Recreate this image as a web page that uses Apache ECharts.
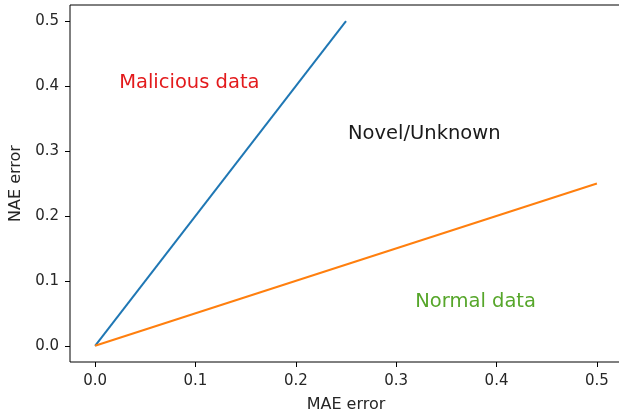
<!DOCTYPE html>
<html>
<head>
<meta charset="utf-8">
<script src="https://cdn.jsdelivr.net/npm/echarts@6/dist/echarts.min.js"></script>
<style>
  html, body { margin: 0; padding: 0; background: #fff; }
  #main { width: 619px; height: 415px; }
</style>
</head>
<body>
<div id="main"></div>
<script>
// threshold lines (MAE on x, NAE on y)
var blueX = [0, 0.25];
var blueY = [0, 0.5];
var orangeX = [0, 0.5];
var orangeY = [0, 0.25];

// tick values shown on both axes
var tickValues = [0, 0.1, 0.2, 0.3, 0.4, 0.5];

// region labels
var noteText = ['Malicious data', 'Novel/Unknown', 'Normal data'];
var noteX = [0.024, 0.252, 0.319];
var noteY = [0.405, 0.326, 0.068];
var noteColor = ['#e31a1c', '#1a1a1a', '#56a62a'];

function pairs(xs, ys) {
    var out = [];
    for (var i = 0; i < xs.length; i++) {
        out.push([xs[i], ys[i]]);
    }
    return out;
}

var notes = [];
for (var i = 0; i < noteText.length; i++) {
    notes.push({
        value: [noteX[i], noteY[i]],
        label: {
            formatter: noteText[i],
            color: noteColor[i]
        }
    });
}

var fmt = function (v) { return v.toFixed(1); };
var font = 'DejaVu Sans';

function makeAxis(name, gap, labelMargin) {
    return {
        type: 'value',
        min: -0.025,
        max: 0.525,
        name: name,
        nameLocation: 'middle',
        nameGap: gap,
        nameTextStyle: {fontFamily: font, fontSize: 16, color: '#262626'},
        splitLine: {show: false},
        axisLine: {show: false, onZero: false},
        axisTick: {
            show: true,
            length: 5,
            customValues: tickValues,
            lineStyle: {color: '#000', width: 1}
        },
        axisLabel: {
            customValues: tickValues,
            formatter: fmt,
            margin: labelMargin,
            fontFamily: font,
            fontSize: 15,
            color: '#262626'
        }
    };
}

var chart = echarts.init(document.getElementById('main'));
chart.setOption({
    animation: false,
    textStyle: {fontFamily: font},
    grid: {
        left: 70, width: 552, top: 5, height: 357,
        outerBoundsMode: 'none',
        containLabel: false,
        show: true,
        borderColor: '#000',
        borderWidth: 1
    },
    xAxis: makeAxis('MAE error', 35, 12),
    yAxis: makeAxis('NAE error', 46, 11),
    series: [
        {
            type: 'line',
            data: pairs(blueX, blueY),
            showSymbol: false,
            lineStyle: {color: '#1f77b4', width: 2},
            itemStyle: {color: '#1f77b4'}
        },
        {
            type: 'line',
            data: pairs(orangeX, orangeY),
            showSymbol: false,
            lineStyle: {color: '#ff7f0e', width: 2},
            itemStyle: {color: '#ff7f0e'}
        },
        {
            type: 'scatter',
            data: notes,
            symbolSize: 0,
            silent: true,
            itemStyle: {opacity: 1},
            label: {
                show: true,
                position: [0, 0],
                align: 'left',
                verticalAlign: 'middle',
                fontFamily: font,
                fontSize: 19.5
            }
        }
    ]
});
</script>
</body>
</html>
